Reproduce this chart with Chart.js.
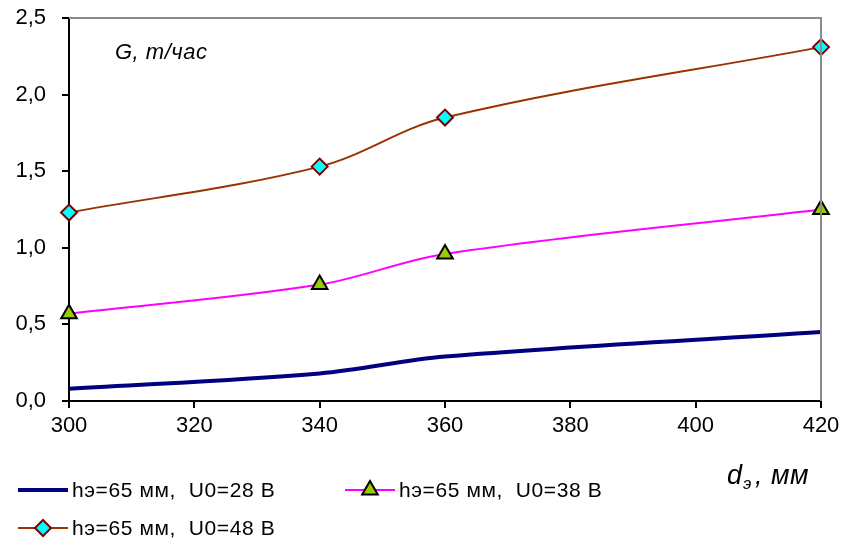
<!DOCTYPE html>
<html>
<head>
<meta charset="utf-8">
<script src="https://cdn.jsdelivr.net/npm/chart.js@4/dist/chart.umd.min.js"></script>
<style>
  html, body { margin: 0; padding: 0; background: #fff; }
  #wrap { width: 846px; height: 539px; }
</style>
</head>
<body>
<div id="wrap"><canvas id="grafik" width="846" height="539"></canvas></div>
<script>
// диаметр электрода, мм
const diametry = [300, 340, 360, 420];
// производительность G, т/час при hэ=65 мм
const g28 = [0.08, 0.18, 0.29, 0.45];
const g38 = [0.57, 0.76, 0.96, 1.25];
const g48 = [1.23, 1.53, 1.85, 2.31];

const nazvaniya = ["hэ=65 мм,  U0=28 В", "hэ=65 мм,  U0=38 В", "hэ=65 мм,  U0=48 В"];
const xTiki = [300, 320, 340, 360, 380, 400, 420];
const yTiki = ["0,0", "0,5", "1,0", "1,5", "2,0", "2,5"];

const SHRIFT = "'Liberation Sans', Arial, sans-serif";

function tochki(znach) {
    return diametry.map((d, i) => ({ x: d, y: znach[i] }));
}

// рамка сверху/справа, подписи осей и легенда внизу
const oformlenie = {
    id: "oformlenie",
    afterDraw(chart) {
        const ctx = chart.ctx;
        const a = chart.chartArea;
        ctx.save();

        ctx.strokeStyle = "#8c8c8c";
        ctx.lineWidth = 2;
        ctx.beginPath();
        ctx.moveTo(a.left, a.top);
        ctx.lineTo(a.right, a.top);
        ctx.lineTo(a.right, a.bottom);
        ctx.stroke();

        ctx.fillStyle = "#000";
        ctx.textBaseline = "alphabetic";
        ctx.textAlign = "left";
        ctx.letterSpacing = "0.5px";
        ctx.font = "italic 22px " + SHRIFT;
        ctx.fillText("G, т/час", 115, 59);

        ctx.font = "italic 27px " + SHRIFT;
        ctx.fillText("d", 727, 484);
        ctx.font = "italic 17px " + SHRIFT;
        ctx.fillText("э", 743, 489);
        ctx.font = "italic 27px " + SHRIFT;
        ctx.fillText(", мм", 755, 484);

        // легенда
        const mesta = [[18, 490], [345, 490], [18, 528]];
        ctx.font = "21px " + SHRIFT;
        ctx.letterSpacing = "0.6px";
        chart.data.datasets.forEach((ds, i) => {
            const [x, y] = mesta[i];
            ctx.strokeStyle = ds.borderColor;
            ctx.lineWidth = ds.borderWidth;
            ctx.beginPath();
            ctx.moveTo(x, y);
            ctx.lineTo(x + 50, y);
            ctx.stroke();
            if (ds.pointRadius > 0) {
                ctx.fillStyle = ds.pointBackgroundColor;
                ctx.strokeStyle = ds.pointBorderColor;
                ctx.lineWidth = ds.pointBorderWidth;
                Chart.helpers.drawPoint(ctx, {
                    pointStyle: ds.pointStyle,
                    radius: ds.pointRadius,
                    rotation: 0,
                    borderWidth: ds.pointBorderWidth
                }, x + 25, y);
            }
            ctx.fillStyle = "#000";
            ctx.textBaseline = "middle";
            ctx.fillText(ds.label, x + 54, y + 1);
        });
        ctx.restore();
    }
};

new Chart(document.getElementById("grafik"), {
    type: "line",
    data: {
        datasets: [
            {
                label: nazvaniya[0],
                data: tochki(g28),
                borderColor: "#000080",
                borderWidth: 4,
                pointRadius: 0,
                tension: 0.35
            },
            {
                label: nazvaniya[1],
                data: tochki(g38),
                borderColor: "#ff00ff",
                borderWidth: 2,
                pointStyle: "triangle",
                pointRadius: 9,
                pointBackgroundColor: "#99cc00",
                pointBorderColor: "#000",
                pointBorderWidth: 2,
                tension: 0.35
            },
            {
                label: nazvaniya[2],
                data: tochki(g48),
                borderColor: "#993300",
                borderWidth: 2,
                pointStyle: "rectRot",
                pointRadius: 8,
                pointBackgroundColor: "#00ffff",
                pointBorderColor: "#800000",
                pointBorderWidth: 2,
                tension: 0.35
            }
        ]
    },
    options: {
        responsive: false,
        animation: false,
        clip: false,
        layout: { padding: { top: 18, right: 25, left: 0, bottom: 0 } },
        plugins: {
            legend: { display: false },
            tooltip: { enabled: false }
        },
        scales: {
            x: {
                type: "linear",
                min: xTiki[0],
                max: xTiki[xTiki.length - 1],
                afterBuildTicks(scale) {
                    scale.ticks = xTiki.map(v => ({ value: v }));
                },
                afterFit(scale) {
                    scale.height = 138;
                    scale.paddingLeft = 0;
                    scale.paddingRight = 0;
                },
                grid: { drawOnChartArea: false, drawTicks: true, tickLength: 7, color: "#000", lineWidth: 2 },
                border: { color: "#000", width: 2 },
                ticks: {
                    color: "#000",
                    font: { family: SHRIFT, size: 22 },
                    padding: 5,
                    maxRotation: 0
                }
            },
            y: {
                min: 0,
                max: 2.5,
                afterBuildTicks(scale) {
                    scale.ticks = yTiki.map((t, i) => ({ value: i * 0.5 }));
                },
                afterFit(scale) {
                    scale.width = 69;
                    scale.paddingTop = 0;
                    scale.paddingBottom = 0;
                },
                grid: { drawOnChartArea: false, drawTicks: true, tickLength: 7, color: "#000", lineWidth: 2 },
                border: { color: "#000", width: 2 },
                ticks: {
                    color: "#000",
                    font: { family: SHRIFT, size: 22 },
                    padding: 16,
                    callback: (v, i) => yTiki[i]
                }
            }
        }
    },
    plugins: [oformlenie]
});
</script>
</body>
</html>
